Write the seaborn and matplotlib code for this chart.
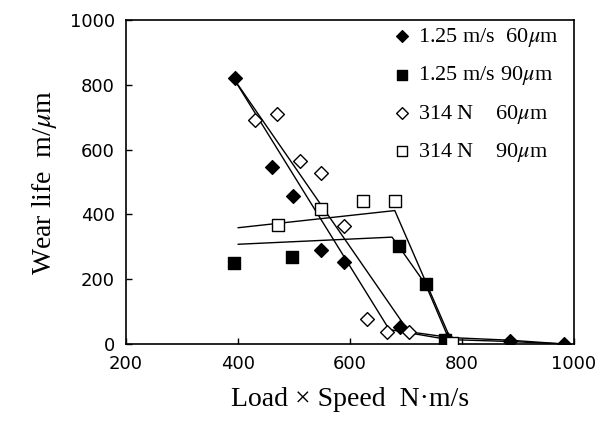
import pandas as pd
import seaborn as sns
import matplotlib.pyplot as plt

# measured points (Load x Speed, wear life)
d60_x = [394, 460, 498, 548, 589, 690, 774, 885, 982]
d60_y = [820, 546, 458, 291, 252, 53, 15, 8, 0]

s90_x = [393, 496, 687, 735, 770]
s90_y = [250, 268, 302, 184, 12]

n60_x = [430, 470, 510, 549, 589, 630, 666, 705]
n60_y = [691, 709, 565, 528, 364, 77, 38, 36]

n90_x = [472, 549, 623, 680, 782]
n90_y = [367, 418, 443, 443, 4]

# hand-drawn trend lines
fit_d60_x = [395, 670, 775, 885, 985]
fit_d60_y = [812, 45, 14, 8, 0]
fit_n60_x = [400, 705, 780, 885, 985]
fit_n60_y = [800, 38, 20, 12, 0]
fit_s90_x = [400, 675, 687, 735, 778]
fit_s90_y = [308, 330, 302, 184, 10]
fit_n90_x = [400, 680, 782]
fit_n90_y = [359, 412, 6]

labels = ["1.25 m/s  60$\\mu$m", "1.25 m/s 90$\\mu$m",
          "314 N    60$\\mu$m", "314 N    90$\\mu$m"]

sns.set_style("ticks")
plt.rcParams["font.family"] = ["Liberation Serif", "DejaVu Serif"]
plt.rcParams["mathtext.fontset"] = "stix"

fig = plt.figure(figsize=(5.97, 4.4), dpi=100)
ax = fig.add_axes([0.211, 0.218, 0.7505, 0.7365])

fits = [(fit_d60_x, fit_d60_y), (fit_n60_x, fit_n60_y),
        (fit_s90_x, fit_s90_y), (fit_n90_x, fit_n90_y)]
for fx, fy in fits:
    sns.lineplot(x=fx, y=fy, sort=False, estimator=None, color="black",
                 linewidth=1, ax=ax)

series = [
    (d60_x, d60_y, "D", "black", 7),
    (s90_x, s90_y, "s", "black", 8),
    (n60_x, n60_y, "D", "white", 7),
    (n90_x, n90_y, "s", "white", 8),
]
for (sx, sy, mk, fc, ms), lab in zip(series, labels):
    df = pd.DataFrame({"x": sx, "y": sy})
    sns.scatterplot(data=df, x="x", y="y", marker=mk, color=fc,
                    edgecolor="black", linewidth=1, s=ms ** 2,
                    label=lab, zorder=3, ax=ax)

ax.set_xlim(200, 1000)
ax.set_ylim(0, 1000)
ax.set_xticks([200, 400, 600, 800, 1000])
ax.set_yticks([0, 200, 400, 600, 800, 1000])
ax.tick_params(direction="in", length=4, width=1, labelsize=13, pad=8,
               colors="black")
for t in ax.get_xticklabels() + ax.get_yticklabels():
    t.set_fontfamily("DejaVu Sans")
for sp in ax.spines.values():
    sp.set_visible(True)
    sp.set_linewidth(1.2)
    sp.set_color("black")

ax.set_xlabel("Load \u00d7 Speed  N\u00b7m/s", fontsize=20, labelpad=10,
              color="black")
ax.set_ylabel("Wear life  m/$\\mu$m", fontsize=20, labelpad=8,
              color="black")

leg = ax.legend(loc="upper left", bbox_to_anchor=(0.56, 1.032), frameon=False,
                fontsize=16, handlelength=0.8, handletextpad=0.3,
                labelspacing=0.68, borderpad=0.25, markerscale=0.85)
for t in leg.get_texts():
    t.set_color("black")

plt.savefig("out.png", dpi=100)
